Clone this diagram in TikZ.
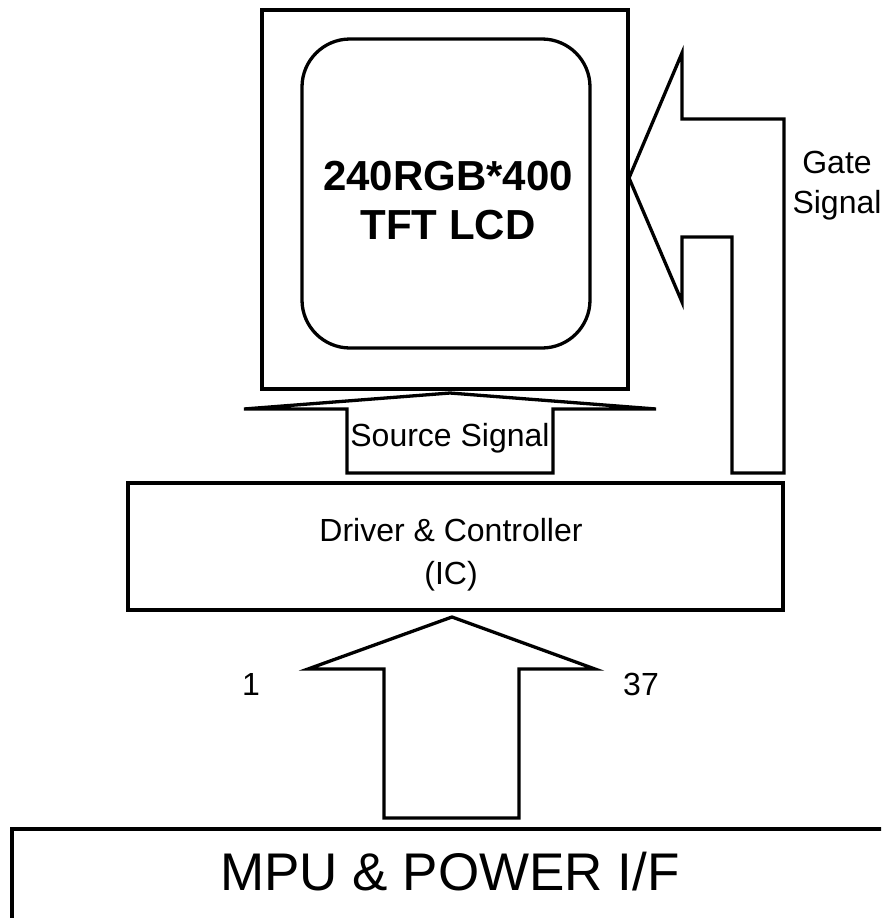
\documentclass[tikz,border=0pt]{standalone}
\usepackage{fontspec}
\setmainfont{Liberation Sans}
\begin{document}
\begin{tikzpicture}[x=1pt,y=-1pt,line width=3.3pt,line join=miter,
  box/.style={draw,inner sep=0pt,outer sep=0pt},
  lbl/.style={inner sep=0pt,anchor=base,font=\fontsize{32}{38}\selectfont},
  title/.style={inner sep=0pt,anchor=base,font=\fontsize{42}{49}\selectfont\bfseries},
  big/.style={inner sep=0pt,anchor=base,font=\fontsize{53}{60}\selectfont},
  blockarrow/.style={draw,line join=miter}]
\useasboundingbox (0,0) rectangle (881,918);
\clip (0,0) rectangle (881,918);
% boxes
\node[box,minimum width=366pt,minimum height=379pt] (lcd) at (445,199.5) {};
\node[box,rounded corners=48pt,minimum width=288pt,minimum height=309pt] (panel) at (446,193.5) {};
\node[box,minimum width=655pt,minimum height=127pt] (drv) at (455.5,546.5) {};
\node[box,minimum width=908pt,minimum height=131pt] (mpu) at (466,894.5) {};
% texts
\node[title] (t1) at (448,190) {240RGB*400};
\node[title] (t2) at (448,239) {TFT LCD};
\node[lbl] (gate) at (837,173) {Gate};
\node[lbl] (gsig) at (837,213) {Signal};
\node[lbl] (src) at (450,446) {Source Signal};
\node[lbl] (d1) at (451,541) {Driver \& Controller};
\node[lbl] (d2) at (451,584) {(IC)};
\node[lbl] (p1) at (251,695) {1};
\node[lbl] (p37) at (641,695) {37};
\node[big] (mputxt) at (450,890) {MPU \& POWER I/F};
% gate signal arrow
\coordinate (gtip) at (629,178);
\draw[blockarrow] (gtip) -- (682,53) -- (682,119) -- (784,119) -- (784,473)
  -- (732,473) -- (732,237) -- (682,237) -- (682,302) -- cycle;
% source signal arrow
\coordinate (stip) at (450,393);
\draw[blockarrow] (stip) -- (656,409) -- (553,409) -- (553,473) -- (347,473)
  -- (347,409) -- (244,409) -- cycle;
% input arrow
\coordinate (itip) at (452,617);
\draw[blockarrow] (itip) -- (595,669) -- (519,669) -- (519,818) -- (384,818)
  -- (384,669) -- (308,669) -- cycle;
\end{tikzpicture}
\end{document}
